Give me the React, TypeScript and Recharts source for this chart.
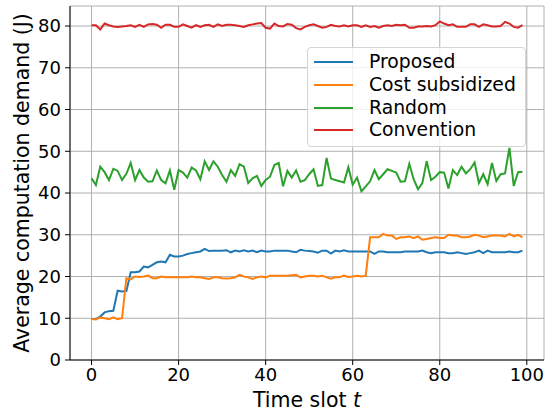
import React from 'react';
import { LineChart, Line, XAxis, YAxis, CartesianGrid, Label } from 'recharts';

// Time slots 0..99
const timeSlots = Array.from({ length: 100 }, (_, i) => i);

const proposed = [
  9.8, 9.8, 10.4, 11.4, 11.7, 11.8, 16.6, 16.4, 16.5, 21.0,
  21.0, 21.2, 22.4, 22.2, 22.8, 23.4, 23.6, 23.4, 25.2, 24.8,
  24.8, 25.0, 25.4, 25.6, 25.8, 26.0, 26.6, 26.1, 26.2, 26.2,
  26.2, 26.3, 25.8, 26.2, 26.0, 26.3, 26.0, 26.2, 25.8, 26.2,
  26.0, 26.0, 26.2, 26.2, 26.2, 26.2, 26.0, 25.8, 26.4, 26.2,
  26.1, 26.0, 25.7, 26.2, 26.2, 25.5, 26.2, 26.0, 26.3, 26.0,
  26.0, 26.0, 26.0, 26.0, 26.0, 25.4, 26.0, 26.0, 25.8, 25.8,
  25.8, 25.8, 26.0, 26.0, 26.0, 26.0, 26.2, 25.8, 25.6, 25.8,
  25.8, 25.8, 25.6, 25.6, 25.8, 25.6, 25.4, 25.6, 25.8, 26.2,
  25.6, 26.2, 25.8, 25.8, 25.8, 25.8, 26.0, 25.8, 25.8, 26.2,
];

const costSubsidized = [
  9.8, 9.7, 10.2, 10.0, 9.8, 10.2, 9.8, 10.0, 19.6, 19.3,
  20.0, 19.9, 20.0, 20.2, 19.6, 19.6, 20.0, 19.8, 19.8, 19.8,
  19.8, 19.8, 19.8, 20.0, 19.8, 19.8, 19.6, 19.4, 19.8, 19.8,
  19.6, 19.5, 19.6, 19.8, 20.4, 20.0, 19.8, 19.4, 19.8, 20.0,
  19.8, 20.2, 20.2, 20.2, 20.2, 20.2, 20.3, 20.4, 19.8, 20.0,
  20.2, 20.2, 20.0, 20.2, 19.8, 19.5, 19.8, 19.8, 20.2, 19.9,
  20.0, 20.2, 20.0, 20.2, 29.4, 29.4, 29.4, 30.2, 29.8, 29.8,
  29.0, 29.4, 29.4, 29.6, 29.2, 29.6, 28.8, 29.0, 29.2, 29.4,
  29.2, 29.2, 30.0, 29.8, 29.8, 29.4, 29.4, 29.6, 30.0, 29.8,
  29.4, 29.6, 29.8, 29.8, 29.8, 29.6, 30.2, 29.6, 30.0, 29.4,
];

const random = [
  43.5, 41.9, 46.3, 45.0, 43.1, 45.8, 45.3, 43.1, 44.6, 47.2,
  43.1, 45.5, 43.7, 42.7, 42.8, 45.4, 43.1, 42.3, 45.4, 40.8,
  45.5, 44.9, 43.7, 46.1, 45.4, 43.3, 47.6, 45.5, 47.6, 46.3,
  44.3, 42.7, 45.5, 44.1, 46.9, 46.3, 42.4, 43.5, 44.1, 41.7,
  43.1, 43.9, 46.7, 47.2, 41.6, 45.3, 43.7, 45.4, 42.7, 43.1,
  44.5, 45.7, 41.7, 41.9, 48.4, 43.5, 43.1, 42.8, 42.5, 46.2,
  42.0, 43.7, 40.4, 41.6, 42.8, 45.5, 43.3, 44.5, 45.7, 45.3,
  44.9, 42.7, 42.8, 47.0, 43.3, 40.9, 42.4, 47.6, 43.1, 43.9,
  45.0, 44.9, 41.1, 45.5, 44.3, 46.3, 44.7, 45.7, 47.3, 42.4,
  44.5, 42.1, 47.2, 42.9, 44.5, 44.7, 50.8, 41.7, 45.0, 45.1,
];

const convention = [
  80.2, 80.2, 79.2, 80.6, 80.2, 79.9, 79.8, 79.9, 80.0, 80.2,
  79.8, 80.3, 79.8, 80.4, 80.5, 80.3, 79.6, 80.3, 80.3, 79.8,
  79.8, 80.4, 80.0, 79.6, 80.2, 79.8, 80.2, 80.3, 79.8, 80.4,
  80.0, 80.3, 80.3, 80.2, 80.0, 79.8, 80.2, 80.4, 80.6, 80.7,
  79.6, 79.4, 80.6, 80.0, 79.9, 80.5, 80.3, 79.5, 79.2, 79.8,
  80.2, 80.4, 80.0, 79.6, 79.8, 80.3, 80.0, 79.9, 80.2, 79.9,
  80.2, 80.2, 79.8, 80.2, 79.8, 80.0, 79.6, 80.0, 80.2, 80.0,
  80.3, 80.2, 80.3, 79.6, 79.6, 79.9, 79.9, 80.0, 79.9, 80.2,
  81.1, 80.6, 80.2, 80.4, 79.8, 79.8, 79.8, 80.4, 80.4, 79.8,
  80.4, 80.2, 79.9, 79.9, 80.0, 81.0, 80.6, 79.8, 79.6, 80.2,
];

const xTicks = [0, 20, 40, 60, 80, 100];
const yTicks = [0, 10, 20, 30, 40, 50, 60, 70, 80];

const seriesList = [
  { key: 'proposed', name: 'Proposed', color: '#1f77b4' },
  { key: 'costSubsidized', name: 'Cost subsidized', color: '#ff7f0e' },
  { key: 'random', name: 'Random', color: '#2ca02c' },
  { key: 'convention', name: 'Convention', color: '#d62728' },
];

const data = timeSlots.map((t, i) => ({
  t,
  proposed: proposed[i],
  costSubsidized: costSubsidized[i],
  random: random[i],
  convention: convention[i],
}));

const FONT = '"DejaVu Sans", sans-serif';

function LegendBox() {
  return (
    <div
      style={{
        position: 'absolute',
        left: 307,
        top: 47,
        width: 219,
        height: 100,
        boxSizing: 'border-box',
        background: 'rgba(255,255,255,0.8)',
        border: '1px solid #d5d5d5',
        borderRadius: 4,
        padding: '3px 0 0 6px',
        fontFamily: FONT,
        fontSize: 18.8,
        color: '#000',
      }}
    >
      {seriesList.map(s => (
        <div key={s.key} style={{ display: 'flex', alignItems: 'center', height: 22.7 }}>
          <span style={{ display: 'inline-block', width: 39, height: 2, background: s.color, marginRight: 16 }} />
          <span style={{ lineHeight: '22px' }}>{s.name}</span>
        </div>
      ))}
    </div>
  );
}

function XLabel(props: any) {
  const { viewBox } = props;
  const cx = viewBox.x + viewBox.width / 2;
  return (
    <text x={cx} y={407} textAnchor="middle" fontFamily={FONT} fontSize={20.5} fill="#000">
      Time slot <tspan fontStyle="italic">t</tspan>
    </text>
  );
}

function YLabel(props: any) {
  const { viewBox } = props;
  const cy = viewBox.y + viewBox.height / 2;
  return (
    <text
      x={29}
      y={cy}
      transform={`rotate(-90, 29, ${cy})`}
      textAnchor="middle"
      fontFamily={FONT}
      fontSize={20.5}
      fill="#000"
    >
      Average computation demand (J)
    </text>
  );
}

export default function App() {
  const tick = { fontFamily: FONT, fontSize: 18, fill: '#000' };
  return (
    <div style={{ position: 'absolute', left: 0, top: 0, width: 545, height: 413, background: '#fff' }}>
      <LineChart width={545} height={413} data={data} margin={{ top: 6, right: 1, left: 0, bottom: 0 }}>
        <CartesianGrid stroke="#b0b0b0" strokeWidth={1} />
        <XAxis
          dataKey="t"
          type="number"
          domain={[-4.95, 103.95]}
          ticks={xTicks}
          allowDataOverflow
          height={53}
          tick={tick}
          tickSize={5}
          tickMargin={3}
          stroke="#000"
          axisLine={{ stroke: '#000' }}
          tickLine={{ stroke: '#000' }}
        >
          <Label content={<XLabel />} />
        </XAxis>
        <XAxis xAxisId="top" orientation="top" dataKey="t" type="number" domain={[-4.95, 103.95]} height={0} tick={false} tickLine={false} axisLine={{ stroke: '#000' }} />
        <YAxis
          domain={[0, 84.8]}
          ticks={yTicks}
          allowDataOverflow
          width={70}
          tick={tick}
          tickSize={5}
          tickMargin={4}
          stroke="#000"
          axisLine={{ stroke: '#000' }}
          tickLine={{ stroke: '#000' }}
        >
          <Label content={<YLabel />} />
        </YAxis>
        <YAxis yAxisId="right" orientation="right" domain={[0, 84.8]} width={0} tick={false} tickLine={false} axisLine={{ stroke: '#000' }} />
        {seriesList.map(s => (
          <Line
            key={s.key}
            type="linear"
            dataKey={s.key}
            name={s.name}
            stroke={s.color}
            strokeWidth={2}
            dot={false}
            isAnimationActive={false}
          />
        ))}
      </LineChart>
      <LegendBox />
    </div>
  );
}
